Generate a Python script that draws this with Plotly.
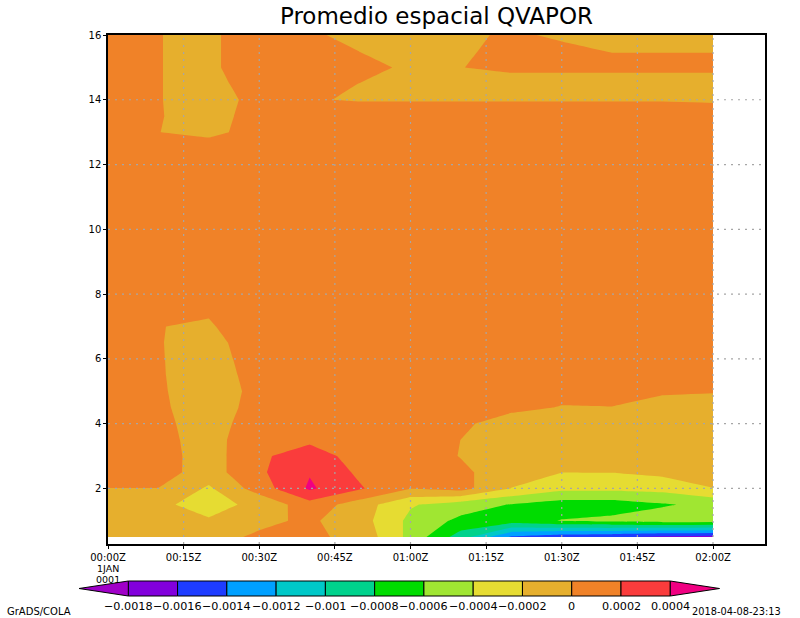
import plotly.graph_objects as go

# ---------------- data ----------------
time_minutes = [0, 10, 20, 30, 40, 50, 60, 70, 80, 90, 100, 110, 120]
levels = [0.5, 1.0, 1.5, 2.0, 2.5, 3.0, 3.5, 4.0, 4.5, 5.0, 5.5, 6.0, 6.5, 7.0,
          8.0, 9.0, 10.0, 11.0, 12.0, 13.0, 13.5, 14.0, 14.5, 15.0, 15.5, 16.0]

# QVAPOR anomaly, in units of 1e-4 (rows = levels, bottom to top)
qvapor_e4 = [
    [-1.0, -1.0, -0.6, 0.28, 0.4, -0.59, -4.6, -9.0, -14.3, -15.5, -15.8, -16.6, -16.9],   # 0.5
    [-1.0, -1.0, -1.84, -0.4, 0.3, -1.15, -4.5, -6.5, -7.0, -5.9, -5.5, -5.0, -5.2],        # 1.0
    [-1.0, -1.7, -2.6, -1.56, 1.2, -1.0, -3.8, -5.0, -6.1, -7.0, -7.0, -6.2, -5.5],         # 1.5
    [-0.02, -0.02, -2.3, 0.95, 4.3, 2.2, 0.05, 0.73, -2.05, -3.5, -3.5, -3.3, -2.05],       # 2.0
    [1.0, 0.8, -0.9, 1.66, 3.86, 1.6, 0.8, 0.355, -1.0, -1.98, -1.95, -1.5, -1.0],          # 2.5
    [1.0, 0.82, -0.9, 1.66, 3.0, 1.16, 1.0, -0.07, -1.0, -1.0, -1.05, -1.0, -0.95],         # 3.0
    [1.0, 0.375, -0.5, 0.885, 1.6, 1.0, 1.0, -0.01, -1.0, -0.95, -1.0, -1.0, -1.0],         # 3.5
    [1.0, 0.27, -0.5, 0.59, 1.0, 1.05, 1.0, 0.39, -1.0, -1.0, -0.95, -1.0, -1.0],           # 4.0
    [1.0, 0.2, -0.6, 0.42, 1.0, 1.0, 1.0, 1.0, 0.5, -0.1, -0.04, -0.9, -1.0],               # 4.5
    [1.0, 0.14, -0.6, 0.31, 1.0, 1.0, 1.0, 1.0, 1.0, 0.6, 0.6, 0.3, 0.15],                  # 5.0
    [1.0, 0.106, -0.6, 0.45, 1.0, 1.0, 1.05, 1.0, 1.0, 1.0, 0.95, 1.0, 1.0],                # 5.5
    [1.0, 0.09, -0.6, 0.65, 1.0, 1.0, 1.0, 1.0, 1.05, 1.0, 1.0, 1.0, 0.95],                 # 6.0
    [1.0, 0.075, -0.6, 0.975, 1.0, 0.95, 1.0, 1.0, 1.0, 1.0, 1.0, 1.05, 1.0],               # 6.5
    [1.0, 0.053, -0.3, 1.8, 1.0, 1.0, 1.0, 0.95, 1.0, 1.0, 1.0, 1.0, 1.0],                  # 7.0
    [1.0, 1.0, 0.9, 1.0, 1.0, 1.0, 1.0, 1.0, 1.0, 1.05, 1.0, 1.0, 1.0],                     # 8
    [1.0, 1.0, 1.0, 1.0, 1.05, 1.0, 1.0, 1.0, 1.0, 1.0, 1.0, 0.95, 1.0],                    # 9
    [1.0, 1.0, 1.0, 1.0, 1.0, 1.0, 0.95, 1.0, 1.0, 1.0, 1.0, 1.0, 1.0],                     # 10
    [1.0, 1.0, 1.0, 1.0, 1.0, 1.0, 1.0, 1.0, 1.05, 1.0, 1.0, 1.0, 1.0],                     # 11
    [1.0, 1.0, 1.0, 1.0, 1.0, 1.0, 1.0, 1.0, 1.0, 1.0, 1.0, 1.0, 1.0],                      # 12
    [1.0, 0.01, -0.2, 0.3, 1.0, 1.0, 1.0, 1.0, 1.0, 1.0, 1.0, 1.0, 1.0],                    # 13
    [1.0, 0.04, -0.3, 0.3, 0.8, 0.8, 0.8, 0.8, 0.8, 0.8, 0.8, 0.8, 0.8],                    # 13.5
    [1.0, 0.04, -0.4, 0.27, 0.084, -0.1, -0.1, -0.1, -0.1, -0.1, -0.1, -0.1, -0.2],         # 14
    [1.0, 0.04, -0.4, 0.58, 0.5, -0.02, -0.8, -1.0, -1.0, -1.0, -1.0, -1.0, -1.0],          # 14.5
    [1.0, 0.04, -0.4, 1.25, 0.8, 0.35, -0.2, -0.045, 0.5, 0.5, 0.5, 0.5, 0.5],              # 15
    [1.0, 0.04, -0.4, 1.25, 0.8, -0.02, -0.5, -0.25, 0.5, 0.3, -0.05, -0.05, -0.05],        # 15.5
    [1.0, 0.04, -0.4, 1.25, 0.5, -1.0, -1.0, -0.27, 0.2, -0.2, -0.3, -0.3, -0.3],           # 16
]
value_scale = 1e-4

contour_levels = [-0.0018, -0.0016, -0.0014, -0.0012, -0.001, -0.0008,
                  -0.0006, -0.0004, -0.0002, 0.0, 0.0002, 0.0004]
band_colors = ["#a000c8", "#8200dc", "#1e3cff", "#00a0ff", "#00c8c8", "#00d28c",
               "#00dc00", "#a0e632", "#e6dc32", "#e6af2d", "#f08228", "#fa3c3c", "#f00082"]
cbar_labels = ["\u22120.0018", "\u22120.0016", "\u22120.0014", "\u22120.0012", "\u22120.001",
               "\u22120.0008", "\u22120.0006", "\u22120.0004", "\u22120.0002", "0",
               "0.0002", "0.0004"]

xtick_vals = [0, 15, 30, 45, 60, 75, 90, 105, 120]
xtick_text = ["00:00Z", "00:15Z", "00:30Z", "00:45Z", "01:00Z",
              "01:15Z", "01:30Z", "01:45Z", "02:00Z"]
ytick_vals = [2, 4, 6, 8, 10, 12, 14, 16]

# ---------------- figure ----------------
FONT = "DejaVu Sans"
W, H = 800, 618
ML, MR, MT, MB = 108, 35, 35, 74
PW, PH = W - ML - MR, H - MT - MB
PB = H - MB

# axis ranges chosen so the data edges fall on whole pixels (02:00Z at x=713, level 0.5 at y=537)
x_range = [0, time_minutes[-1] * PW / 605.0]
y_lo = (levels[0] * PH - 16.0 * 7.0) / (PH - 7.0)
y_range = [y_lo, 16]

z = [[v * value_scale for v in row] for row in qvapor_e4]
step = contour_levels[1] - contour_levels[0]
ncol = len(band_colors)

fig = go.Figure(go.Contour(
    x=time_minutes, y=levels, z=z,
    autocontour=False,
    contours=dict(start=contour_levels[0], end=contour_levels[-1], size=step,
                  coloring="fill", showlines=False),
    colorscale=[[i / (ncol - 1), c] for i, c in enumerate(band_colors)],
    showscale=False, line=dict(width=0, smoothing=0), hoverinfo="skip",
))


def px_x(px):
    return (px - ML) / PW


def px_y(py):
    return (PB - py) / PH


shapes = []
grid_style = dict(color="#a6a6a6", width=1.2, dash="2px,5px")
for xv in xtick_vals[1:]:
    shapes.append(dict(type="line", xref="x", yref="paper", x0=xv, x1=xv, y0=0, y1=1,
                       line=grid_style, layer="above"))
for yv in ytick_vals[:-1]:
    shapes.append(dict(type="line", xref="paper", yref="y", x0=0, x1=1, y0=yv, y1=yv,
                       line=grid_style, layer="above"))

# colour key
cb_x0, cb_dx = 128.3, 49.27
cb_top, cb_bot = 581, 596
cb_mid = (cb_top + cb_bot) / 2
nbox = len(band_colors) - 2
for k in range(nbox):
    a = cb_x0 + k * cb_dx
    shapes.append(dict(type="rect", xref="paper", yref="paper",
                       x0=px_x(a), x1=px_x(a + cb_dx), y0=px_y(cb_bot), y1=px_y(cb_top),
                       fillcolor=band_colors[k + 1], line=dict(color="black", width=1)))
cb_end = cb_x0 + nbox * cb_dx
shapes.append(dict(type="path", xref="paper", yref="paper",
                   path=f"M {px_x(cb_x0)},{px_y(cb_top)} L {px_x(cb_x0 - cb_dx)},{px_y(cb_mid)} "
                        f"L {px_x(cb_x0)},{px_y(cb_bot)} Z",
                   fillcolor=band_colors[0], line=dict(color="black", width=1)))
shapes.append(dict(type="path", xref="paper", yref="paper",
                   path=f"M {px_x(cb_end)},{px_y(cb_top)} L {px_x(cb_end + cb_dx)},{px_y(cb_mid)} "
                        f"L {px_x(cb_end)},{px_y(cb_bot)} Z",
                   fillcolor=band_colors[-1], line=dict(color="black", width=1)))

annotations = []
for k, lab in enumerate(cbar_labels):
    annotations.append(dict(text=lab, xref="paper", yref="paper",
                            x=px_x(cb_x0 + k * cb_dx), y=px_y(606),
                            xanchor="center", yanchor="middle", showarrow=False,
                            font=dict(family=FONT, size=11.2, color="black")))
annotations.append(dict(text="1JAN", xref="x", yref="paper", x=xtick_vals[0], y=px_y(568),
                        xanchor="center", yanchor="middle", showarrow=False,
                        font=dict(family=FONT, size=9.5, color="black")))
annotations.append(dict(text="0001", xref="x", yref="paper", x=xtick_vals[0], y=px_y(579),
                        xanchor="center", yanchor="middle", showarrow=False,
                        font=dict(family=FONT, size=9.5, color="black")))
annotations.append(dict(text="GrADS/COLA", xref="paper", yref="paper", x=px_x(5), y=px_y(611),
                        xanchor="left", yanchor="middle", showarrow=False,
                        font=dict(family=FONT, size=10, color="black")))
annotations.append(dict(text="2018-04-08-23:13", xref="paper", yref="paper", x=px_x(783),
                        y=px_y(611), xanchor="right", yanchor="middle", showarrow=False,
                        font=dict(family=FONT, size=9.8, color="black")))

axis_common = dict(showline=True, mirror=True, linecolor="black", linewidth=1.5,
                   ticks="outside", ticklen=3, tickwidth=1, tickcolor="black",
                   showgrid=False, zeroline=False,
                   tickfont=dict(family=FONT, size=10, color="black"))

fig.update_layout(
    width=W, height=H,
    margin=dict(l=ML, r=MR, t=MT, b=MB),
    paper_bgcolor="white", plot_bgcolor="white",
    title=dict(text="Promedio espacial QVAPOR", x=0.5, xref="paper", xanchor="center",
               y=1 - 16 / H, yref="container", yanchor="middle",
               font=dict(family=FONT, size=23, color="black")),
    xaxis=dict(range=x_range, tickmode="array", tickvals=xtick_vals, ticktext=xtick_text,
               **axis_common),
    yaxis=dict(range=y_range, tickmode="array", tickvals=ytick_vals,
               ticktext=[str(v) for v in ytick_vals], **axis_common),
    shapes=shapes, annotations=annotations, showlegend=False,
)

fig.write_html("out.html")
